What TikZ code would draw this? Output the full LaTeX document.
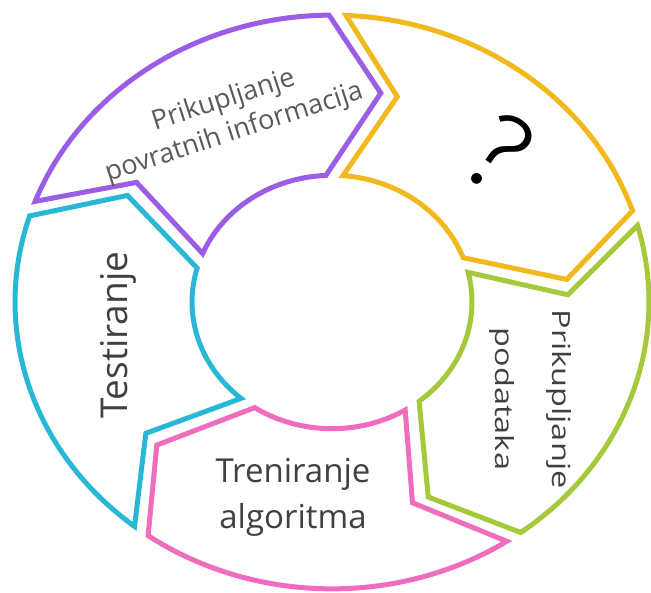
\documentclass[tikz,border=0pt]{standalone}
\usepackage{fontspec}
\setmainfont{Open Sans}
\newfontfamily\widefont[FakeStretch=1.3]{Open Sans}
\newfontfamily\thinfont{Fira Sans Light}

\definecolor{segpurple}{RGB}{155,93,229}
\definecolor{segyellow}{RGB}{242,185,30}
\definecolor{seggreen}{RGB}{166,201,59}
\definecolor{segpink}{RGB}{240,108,188}
\definecolor{segcyan}{RGB}{40,184,214}
\definecolor{txtgray}{RGB}{64,64,64}
\definecolor{feedgray}{RGB}{90,90,90}

\tikzset{
    seg/.style={line width=5pt, line join=miter},
    lbl/.style={text=txtgray, inner sep=0pt, align=center},
}

\begin{document}
\begin{tikzpicture}[x=1pt, y=1pt]
    \useasboundingbox (0,0) rectangle (651,-593);
    \coordinate (o) at (332,-302);

    % half gap between neighbouring chevrons, as angle on each radius
    \pgfmathsetmacro\oo{asin(8.5/317)}
    \pgfmathsetmacro\om{asin(8.5/236)}
    \pgfmathsetmacro\oi{asin(8.5/140)}

    \begin{scope}[shift={(o)}, yscale=0.905]
        \foreach \ang/\col in {161/segpurple, 89/segyellow, 17/seggreen, -55/segpink, -127/segcyan} {
            \pgfmathsetmacro\nxt{\ang-72}
            \draw[seg, draw=\col] ({\ang-\oo}:317)
                arc[start angle={\ang-\oo}, end angle={\nxt+\oo}, radius=317]
                -- ({\nxt-13+\om}:236) -- ({\nxt+\oi}:140)
                arc[start angle={\nxt+\oi}, end angle={\ang-\oi}, radius=140]
                -- ({\ang-13-\om}:236) -- cycle;
        }
    \end{scope}

    \node[lbl, text=feedgray, font=\fontsize{27}{34}\selectfont, rotate=18] (feedback) at (229,-117) {Prikupljanje\\povratnih informacija};
    \node[inner sep=0pt, font=\thinfont\fontsize{112}{112}\selectfont, rotate=-35] (unknown) at (499,-152) {?};
    \node[lbl, font=\widefont\fontsize{25}{57}\selectfont, rotate=-90] (data) at (530,-399) {Prikupljanje\\podataka};
    \node[lbl, font=\fontsize{33}{46}\selectfont] (train) at (293,-497) {Treniranje\\algoritma};
    \node[lbl, font=\fontsize{37}{40}\selectfont, rotate=90, anchor=base] (test) at (127,-335) {Testiranje};
\end{tikzpicture}
\end{document}
